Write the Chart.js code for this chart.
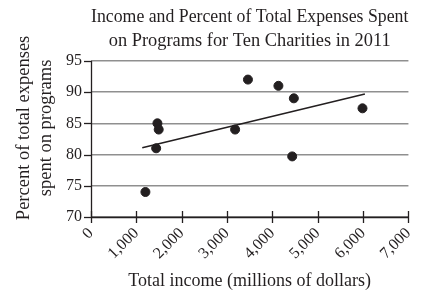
<!DOCTYPE html>
<html>
<head>
<meta charset="utf-8">
<script src="https://cdn.jsdelivr.net/npm/chart.js@4"></script>
<style>
  html, body { margin: 0; padding: 0; background: #fff; }
  #wrap { width: 429px; height: 295px; }
</style>
</head>
<body>
<div id="wrap"><canvas id="c" width="429" height="295"></canvas></div>
<script>
// ten charities, income in millions of dollars vs % of expenses spent on programs
const income  = [1200, 1465, 1493, 1437, 3178, 3461, 4133, 4473, 4437, 5987];
const percent = [74,   85,   84,   81,   84,   92,   91,   89,   79.7, 87.4];
// line of best fit, end points
const fitX = [1130, 6040];
const fitY = [81.1, 89.7];
const xTicks = [0, 1000, 2000, 3000, 4000, 5000, 6000, 7000];
const yTicks = [70, 75, 80, 85, 90, 95];
const yTitle = ['Percent of total expenses', 'spent on programs'];

const ink = '#231f20', gridCol = '#8f8f8f';
const serif = 'Liberation Serif, DejaVu Serif, serif';

// tick marks that cross the axis lines, plus the y title (sits a bit above centre in the original)
const axisDeco = {
  id: 'axisDeco',
  afterDraw(ch) {
    const ctx = ch.ctx, x = ch.scales.x, y = ch.scales.y, a = ch.chartArea;
    ctx.save(); ctx.strokeStyle = ink; ctx.lineWidth = 1.3;
    xTicks.forEach(v => { const px = Math.round(x.getPixelForValue(v)) + 0.5;
      ctx.beginPath(); ctx.moveTo(px, a.bottom - 6); ctx.lineTo(px, a.bottom + 6); ctx.stroke(); });
    yTicks.forEach(v => { const py = Math.round(y.getPixelForValue(v)) + 0.5;
      ctx.beginPath(); ctx.moveTo(a.left - 7, py); ctx.lineTo(a.left, py); ctx.stroke(); });
    ctx.beginPath(); ctx.moveTo(a.left + 0.5, a.top); ctx.lineTo(a.left + 0.5, a.bottom); ctx.stroke();
    ctx.beginPath(); ctx.moveTo(a.left, a.bottom + 0.5); ctx.lineTo(a.right, a.bottom + 0.5); ctx.stroke();

    ctx.translate(24, (a.top + a.bottom) / 2 - 11); ctx.rotate(-Math.PI / 2);
    ctx.fillStyle = ink; ctx.font = '18.5px ' + serif;
    ctx.textAlign = 'center'; ctx.textBaseline = 'middle';
    yTitle.forEach((t, i) => ctx.fillText(t, 0, i * 22));
    ctx.restore();
  }
};

new Chart(document.getElementById('c'), {
  type: 'scatter',
  data: {
    datasets: [
      { data: income.map((v, i) => ({ x: v, y: percent[i] })),
        backgroundColor: ink, borderColor: ink, pointRadius: 4.5, pointHoverRadius: 4.5 },
      { type: 'line', data: fitX.map((v, i) => ({ x: v, y: fitY[i] })),
        borderColor: ink, borderWidth: 1.6, pointRadius: 0, fill: false }
    ]
  },
  options: {
    responsive: false, animation: false,
    layout: { autoPadding: false, padding: { left: 0, right: 8, top: 0, bottom: 0 } },
    plugins: {
      legend: { display: false }, tooltip: { enabled: false },
      title: { display: true, fullSize: false, color: ink,
        text: ['Income and Percent of Total Expenses Spent', 'on Programs for Ten Charities in 2011'],
        font: { family: serif, size: 18.4, weight: 'normal', lineHeight: 1.3 },
        padding: { top: 5, bottom: 8 } }
    },
    scales: {
      x: { type: 'linear', min: 0, max: 7000,
        afterBuildTicks: s => { s.ticks = xTicks.map(v => ({ value: v })); },
        afterFit: s => { s.height = 78; },
        grid: { display: false, drawTicks: false },
        border: { display: false },
        ticks: { color: ink, font: { family: serif, size: 16 }, minRotation: 45, maxRotation: 45, padding: 7,
          callback: v => v.toLocaleString('en-US') },
        title: { display: true, text: 'Total income (millions of dollars)', color: ink,
          font: { family: serif, size: 18 }, padding: { top: 0, bottom: 3 } } },
      y: { min: 70, max: 95,
        afterBuildTicks: s => { s.ticks = yTicks.map(v => ({ value: v })); },
        afterFit: s => { s.width = 91; },
        grid: { color: gridCol, lineWidth: 1.5, drawTicks: false },
        border: { display: false },
        ticks: { color: ink, font: { family: serif, size: 16 }, padding: 9 } }
    }
  },
  plugins: [axisDeco]
});
</script>
</body>
</html>
